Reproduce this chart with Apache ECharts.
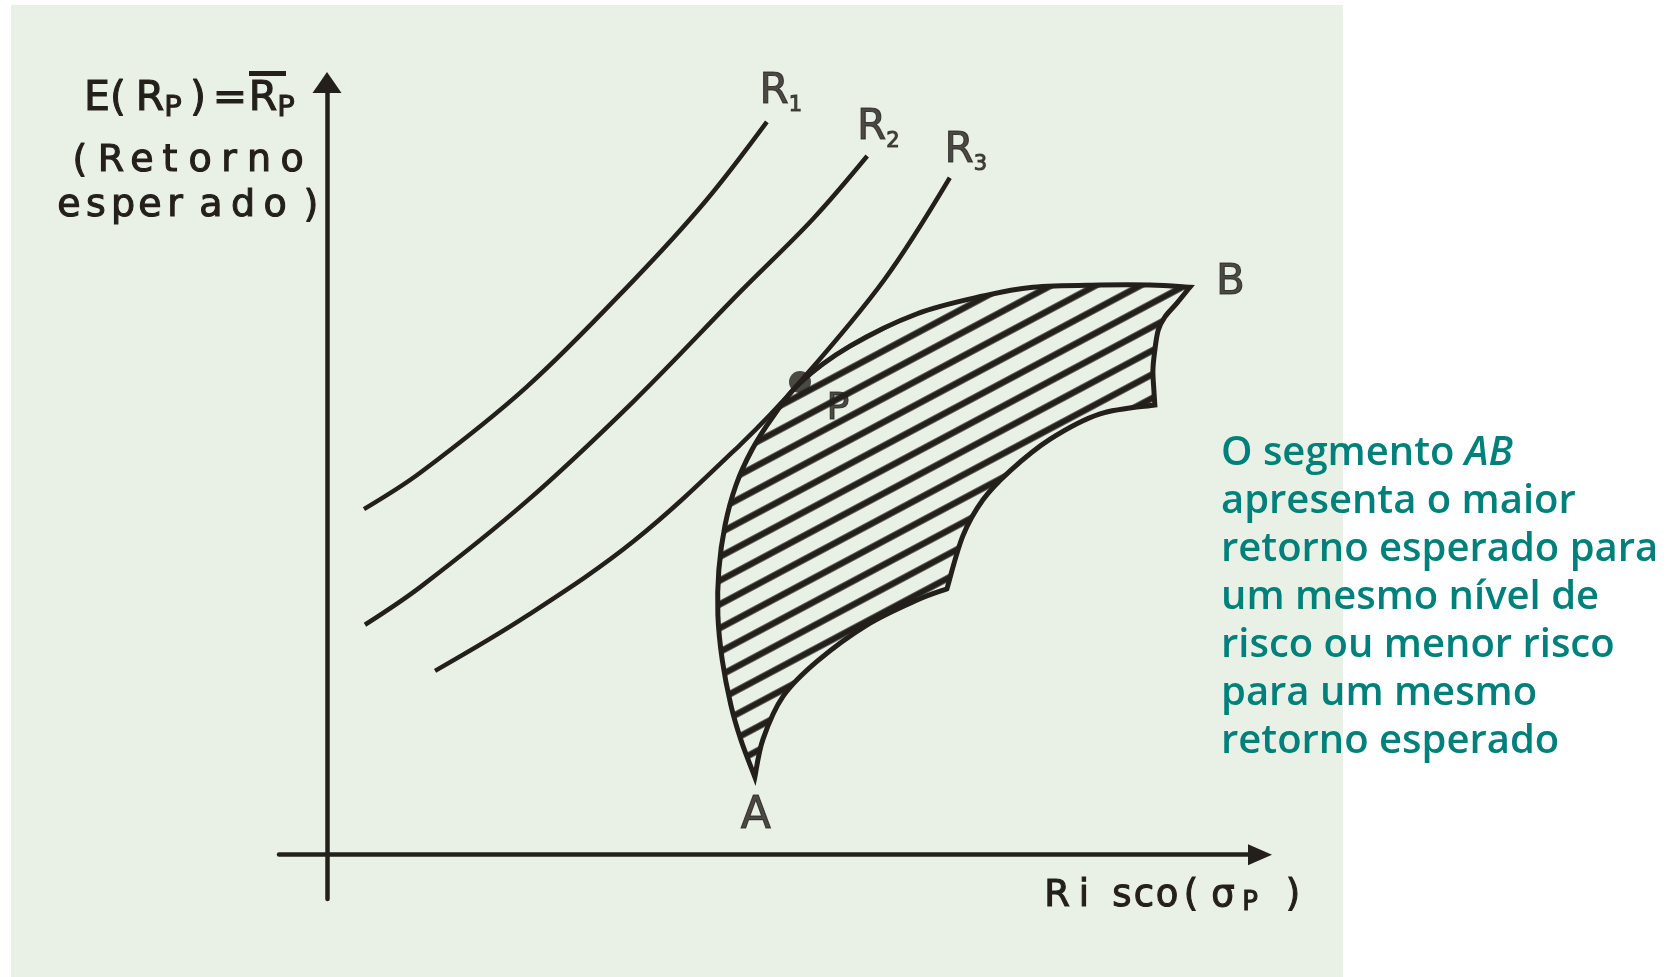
<!DOCTYPE html>
<html>
<head>
<meta charset="utf-8">
<title>Retorno esperado x risco</title>
<script src="https://cdn.jsdelivr.net/npm/echarts@6/dist/echarts.min.js"></script>
<style>
  html, body { margin: 0; padding: 0; background: #fff; }
  #chart { width: 1674px; height: 977px; }
</style>
</head>
<body>
<div id="chart"></div>
<script>
// curvas de indiferença: [risco, retorno esperado]
const r1 = [[0.77, 7.80], [1.94, 8.62], [4.16, 10.56], [6.39, 12.97], [7.89, 14.76], [9.16, 16.54]];
const r2 = [[0.79, 5.19], [1.94, 6.04], [4.16, 7.98], [6.39, 10.24], [8.62, 12.72], [10.12, 14.35], [11.25, 15.77]];
const r3 = [[2.25, 4.15], [4.16, 5.39], [6.39, 7.08], [8.62, 9.27], [9.85, 10.67], [11.60, 12.97], [12.97, 15.28]];

// ponto de tangência
const pointP = [9.85, 10.67];

// conjunto de carteiras possíveis, bordas em ordem A -> B -> C -> D -> A
const edgeAtoB = [[8.91, 1.75], [8.62, 2.59], [8.41, 3.38], [8.23, 4.40], [8.14, 5.41], [8.16, 6.43],
  [8.29, 7.44], [8.52, 8.35], [8.85, 9.14], [9.27, 9.86], [9.85, 10.65], [10.89, 11.48],
  [12.29, 12.21], [13.66, 12.61], [14.70, 12.81], [16.10, 12.86], [17.14, 12.86], [17.97, 12.81]];
const edgeBtoC = [[17.97, 12.81], [17.70, 12.45], [17.45, 12.14], [17.31, 11.84], [17.24, 11.39],
  [17.20, 10.94], [17.22, 10.49], [17.24, 10.15]];
const edgeCtoD = [[17.24, 10.15], [16.10, 9.95], [15.06, 9.38], [14.22, 8.66], [13.66, 8.01],
  [13.24, 7.19], [12.91, 6.00]];
const edgeDtoA = [[12.91, 6.00], [12.29, 5.75], [11.25, 5.19], [10.21, 4.37], [9.50, 3.58],
  [9.08, 2.61], [8.91, 1.75]];

const pointA = edgeAtoB[0];
const pointB = edgeAtoB[edgeAtoB.length - 1];

const noteLines = [
  "O segmento {i|AB}",
  "apresenta o maior",
  "retorno esperado para",
  "um mesmo nível de",
  "risco ou menor risco",
  "para um mesmo",
  "retorno esperado"
];

const ink = "#231f1b";
const teal = "#00807a";
const sans = "DejaVu Sans";

// hachura do conjunto
const tile = document.createElement("canvas");
tile.width = 16;
tile.height = 21;
const tctx = tile.getContext("2d");
tctx.strokeStyle = ink;
tctx.lineWidth = 6.4;
tctx.beginPath();
tctx.moveTo(0, 10.5);
tctx.lineTo(16, 10.5);
tctx.stroke();
const hatch = { image: tile, repeat: "repeat", rotation: -28 * Math.PI / 180 };

// catmull-rom -> bezier (passa pelos pontos)
function bezierThrough(pts) {
  let d = "";
  for (let i = 0; i < pts.length - 1; i++) {
    const p0 = pts[i - 1] || pts[i];
    const p1 = pts[i];
    const p2 = pts[i + 1];
    const p3 = pts[i + 2] || p2;
    const c1 = [p1[0] + (p2[0] - p0[0]) / 6, p1[1] + (p2[1] - p0[1]) / 6];
    const c2 = [p2[0] - (p3[0] - p1[0]) / 6, p2[1] - (p3[1] - p1[1]) / 6];
    d += " C " + c1[0] + " " + c1[1] + " " + c2[0] + " " + c2[1] + " " + p2[0] + " " + p2[1];
  }
  return d;
}

// rich text with each glyph centred on a given x, to mimic the wide letter spacing
// glyphs: [char, centreX, styleOverrides]
function spacedRich(glyphs, base) {
  const rich = {};
  let text = "";
  const box = 16;
  let edge = glyphs[0][1] - box / 2;
  const left = edge;
  glyphs.forEach(function (g, i) {
    const l = g[1] - box / 2;
    if (l - edge > 0.5) {
      rich["g" + i] = Object.assign({}, base, { width: l - edge });
      text += "{g" + i + "| }";
    }
    rich["c" + i] = Object.assign({}, base, g[2] || {}, { width: box, align: "center" });
    text += "{c" + i + "|" + g[0] + "}";
    edge = l + box;
  });
  return { text: text, rich: rich, left: left };
}

// zrender text: stroke with the same ink to get the heavier weight of the original
const titleBase = { fontFamily: sans, fontSize: 38, lineHeight: 40, fill: ink, stroke: ink, lineWidth: 1.1 };
const subBase = { fontSize: 26, lineHeight: 12, verticalAlign: "bottom" };
const subBig = { fontSize: 29, lineHeight: 18, verticalAlign: "bottom" };

const yLine1 = spacedRich([["E", 97], ["(", 118], ["R", 150], ["P", 173, subBig],
  [")", 198], ["=", 230], ["R", 263], ["P", 286, subBig]],
  Object.assign({}, titleBase, { fontSize: 41, lineHeight: 48 }));
const yLine2 = spacedRich([["(", 80], ["R", 111], ["e", 142], ["t", 170], ["o", 200], ["r", 229], ["n", 259], ["o", 292]], titleBase);
const yLine3 = spacedRich([["e", 69], ["s", 96], ["p", 123], ["e", 150], ["r", 175], ["a", 211], ["d", 243], ["o", 275], [")", 311]], titleBase);
const xTitle = spacedRich([["R", 1057], ["i", 1084], ["s", 1122], ["c", 1144], ["o", 1167], ["(", 1191], ["σ", 1223], ["P", 1250, subBase], [")", 1293]],
  Object.assign({}, titleBase, { fontSize: 37 }));

const chart = echarts.init(document.getElementById("chart"));

const labelData = [
  { name: "R1", value: r1[r1.length - 1], text: "{r|R}{s|1}", offset: [14, -29.5] },
  { name: "R2", value: r2[r2.length - 1], text: "{r|R}{s|2}", offset: [11, -27.5] },
  { name: "R3", value: r3[r3.length - 1], text: "{r|R}{s|3}", offset: [16, -27] },
  { name: "A", value: pointA, text: "{a|A}", offset: [1, 39.5] },
  { name: "B", value: pointB, text: "{b|B}", offset: [40.5, -4] },
  { name: "P", value: pointP, text: "{p|P}", offset: [38, 27] }
];

const lbl = { fontFamily: sans, color: ink, textShadowBlur: 0, textBorderColor: ink, textBorderWidth: 1.1 };

chart.setOption({
  backgroundColor: "#ffffff",
  animation: false,
  grid: { left: 279, top: 82.5, width: 981, height: 816.5 },
  xAxis: {
    type: "value",
    min: -1,
    max: 19.43,
    axisLine: {
      show: true,
      onZero: true,
      symbol: ["none", "triangle"],
      symbolSize: [21, 24],
      lineStyle: { color: ink, width: 4.5 }
    },
    axisTick: { show: false },
    axisLabel: { show: false },
    splitLine: { show: false }
  },
  yAxis: {
    type: "value",
    min: -1,
    max: 17.43,
    axisLine: {
      show: true,
      onZero: true,
      symbol: ["none", "triangle"],
      symbolSize: [29, 21],
      lineStyle: { color: ink, width: 4.5 }
    },
    axisTick: { show: false },
    axisLabel: { show: false },
    splitLine: { show: false }
  },
  graphic: [
    {
      type: "rect",
      z: -100,
      shape: { x: 11, y: 5, width: 1332, height: 972 },
      style: { fill: "#e9f1e7" }
    },
    {
      type: "text",
      z: 10,
      style: {
        x: yLine1.left, y: 75, align: "left", verticalAlign: "top",
        text: yLine1.text, rich: yLine1.rich
      }
    },
    {
      type: "rect",
      z: 10,
      shape: { x: 249, y: 71, width: 37, height: 5 },
      style: { fill: ink }
    },
    {
      type: "text",
      z: 10,
      style: {
        x: yLine2.left, y: 161, align: "left", verticalAlign: "middle",
        text: yLine2.text, rich: yLine2.rich
      }
    },
    {
      type: "text",
      z: 10,
      style: {
        x: yLine3.left, y: 206, align: "left", verticalAlign: "middle",
        text: yLine3.text, rich: yLine3.rich
      }
    },
    {
      type: "text",
      z: 10,
      style: {
        x: xTitle.left, y: 876.5, align: "left", verticalAlign: "top",
        text: xTitle.text, rich: xTitle.rich
      }
    },
    {
      type: "text",
      z: 10,
      style: {
        x: 1221, y: 430, align: "left", verticalAlign: "top",
        text: noteLines.join("\n"),
        fontFamily: "Open Sans", fontSize: 40, fontWeight: 600, lineHeight: 48,
        fill: teal,
        rich: {
          i: { fontFamily: "Open Sans", fontSize: 40, fontWeight: 600, fontStyle: "italic", lineHeight: 48, fill: teal }
        }
      }
    }
  ],
  series: [
    {
      type: "scatter",
      z: 1,
      silent: true,
      symbolSize: 1,
      itemStyle: { color: "rgba(0,0,0,0)" },
      data: labelData.map(function (d) {
        return {
          name: d.name,
          value: d.value,
          label: { show: true, position: "inside", offset: d.offset, formatter: d.text }
        };
      }),
      label: {
        show: true,
        color: ink,
        rich: {
          r: Object.assign({ fontSize: 42, lineHeight: 48 }, lbl),
          s: Object.assign({ fontSize: 21, lineHeight: 12, verticalAlign: "bottom" }, lbl),
          a: Object.assign({ fontSize: 44, lineHeight: 48 }, lbl),
          b: Object.assign({ fontSize: 42, lineHeight: 48 }, lbl),
          p: Object.assign({ fontSize: 38, lineHeight: 44 }, lbl)
        }
      }
    },
    {
      type: "custom",
      z: 2,
      silent: true,
      data: [pointA],
      renderItem: function (params, api) {
        const edges = [edgeAtoB, edgeBtoC, edgeCtoD, edgeDtoA].map(function (e) {
          return e.map(function (p) { return api.coord(p); });
        });
        let d = "M " + edges[0][0][0] + " " + edges[0][0][1];
        edges.forEach(function (e) { d += bezierThrough(e); });
        d += " Z";
        return {
          type: "path",
          shape: { pathData: d },
          style: { fill: hatch, stroke: ink, lineWidth: 5, lineJoin: "miter", miterLimit: 6 }
        };
      }
    }
  ].concat([r1, r2, r3].map(function (d) {
    return {
      type: "line",
      z: 3,
      silent: true,
      data: d,
      smooth: 0.35,
      symbol: "none",
      lineStyle: { color: ink, width: 4.5 }
    };
  })).concat([
    {
      type: "scatter",
      z: 4,
      silent: true,
      symbolSize: 22,
      itemStyle: { color: ink },
      data: [pointP]
    }
  ])
});
</script>
</body>
</html>
